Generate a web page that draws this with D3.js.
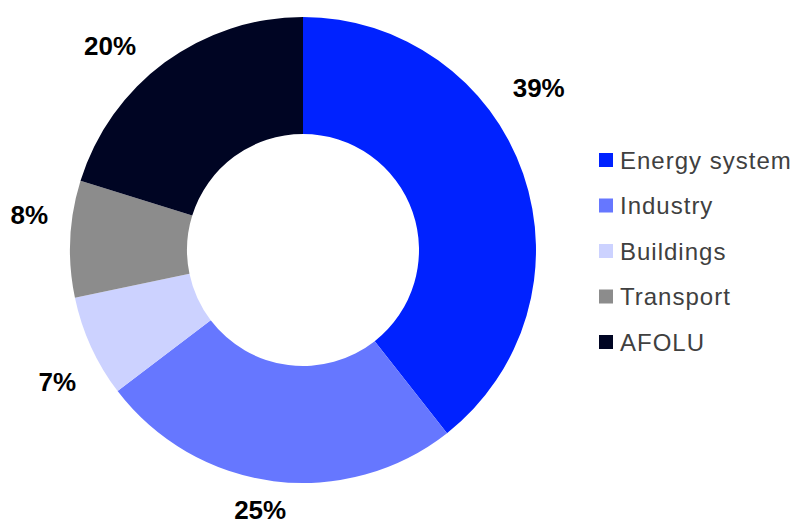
<!DOCTYPE html>
<html>
<head>
<meta charset="utf-8">
<script src="https://cdn.jsdelivr.net/npm/d3@7"></script>
<style>
  html, body { margin: 0; padding: 0; background: #ffffff; }
  svg { display: block; }
</style>
</head>
<body>
<svg id="chart" width="796" height="520"></svg>
<script>
// Emissions share by sector
const categories = ["Energy system", "Industry", "Buildings", "Transport", "AFOLU"];
const shares = [39, 25, 7, 8, 20];
const percentLabels = ["39%", "25%", "7%", "8%", "20%"];
const colors = ["#0022ff", "#6677ff", "#ccd2ff", "#8c8c8c", "#000523"];
// angular nudge (degrees) and distance from centre for each outer label
const labelNudge = [-15.4, 2.1, -3.7, 4.6, -7];
const labelDist = [286, 263, 279, 276, 281];

const width = 796, height = 520;
const cx = 303, cy = 250;
const outerR = 233, innerR = 116;

const svg = d3.select("#chart");

const pie = d3.pie().value(d => d).sort(null);
const arcs = pie(shares);

const arc = d3.arc().innerRadius(innerR).outerRadius(outerR);

const g = svg.append("g").attr("transform", `translate(${cx},${cy})`);

g.selectAll("path.slice")
  .data(arcs)
  .join("path")
  .attr("class", "slice")
  .attr("d", arc)
  .attr("fill", (d, i) => colors[i]);

const labelAngle = (d, i) => (d.startAngle + d.endAngle) / 2 + labelNudge[i] * Math.PI / 180;

g.selectAll("text.pct")
  .data(arcs)
  .join("text")
  .attr("class", "pct")
  .attr("x", (d, i) => labelDist[i] * Math.sin(labelAngle(d, i)))
  .attr("y", (d, i) => -labelDist[i] * Math.cos(labelAngle(d, i)))
  .attr("dy", "0.36em")
  .attr("text-anchor", "middle")
  .attr("font-family", "Liberation Sans, Arial, sans-serif")
  .attr("font-weight", "bold")
  .attr("font-size", 26)
  .attr("fill", "#000000")
  .text((d, i) => percentLabels[i]);

// Legend
const legendY = d3.scalePoint().domain(categories).range([160, 342]);
const legend = svg.append("g");
const items = legend.selectAll("g.item")
  .data(categories)
  .join("g")
  .attr("class", "item")
  .attr("transform", d => `translate(599,${legendY(d)})`);

items.append("rect")
  .attr("x", 0)
  .attr("y", -7)
  .attr("width", 14)
  .attr("height", 14)
  .attr("fill", (d, i) => colors[i]);

items.append("text")
  .attr("x", 21)
  .attr("y", 0)
  .attr("dy", "0.36em")
  .attr("font-family", "Liberation Sans, Arial, sans-serif")
  .attr("font-size", 24)
  .attr("letter-spacing", 1)
  .attr("fill", "#404040")
  .text(d => d);
</script>
</body>
</html>
